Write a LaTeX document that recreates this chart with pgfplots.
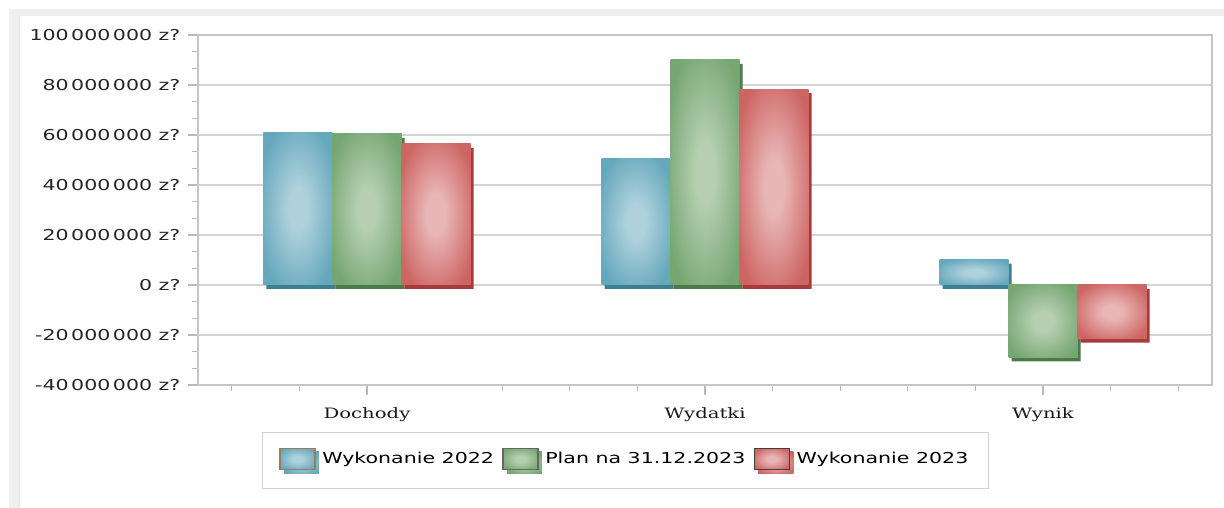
\documentclass[border=0pt]{standalone}
\usepackage{fontspec}
\setmainfont[FakeStretch=1.37]{DejaVu Sans}
\newfontfamily\catfont[FakeStretch=1.37]{DejaVu Serif}
\usepackage{pgfplots}
\usepackage{pgfplotstable}
\pgfplotsset{compat=1.18}
\definecolor{bluebase}{HTML}{65A7BC}
\definecolor{bluelight}{HTML}{AED1DC}
\definecolor{blueshadow}{HTML}{3F7E8E}
\definecolor{greenbase}{HTML}{77A673}
\definecolor{greenlight}{HTML}{B5CFB0}
\definecolor{greenshadow}{HTML}{4C7A4A}
\definecolor{redbase}{HTML}{CD6563}
\definecolor{redlight}{HTML}{E8B6B6}
\definecolor{redshadow}{HTML}{A53B3C}
\definecolor{framegray}{HTML}{EFEFEF}
\definecolor{gridgray}{HTML}{D4D4D4}
\pgfdeclareradialshading{blueglass}{\pgfpoint{0bp}{0bp}}{color(0bp)=(bluelight); color(7bp)=(bluelight); color(30bp)=(bluebase); color(50bp)=(bluebase)}
\pgfdeclareradialshading{greenglass}{\pgfpoint{0bp}{0bp}}{color(0bp)=(greenlight); color(7bp)=(greenlight); color(30bp)=(greenbase); color(50bp)=(greenbase)}
\pgfdeclareradialshading{redglass}{\pgfpoint{0bp}{0bp}}{color(0bp)=(redlight); color(7bp)=(redlight); color(30bp)=(redbase); color(50bp)=(redbase)}
\pgfplotstableread{
x w22 plan w23
0 61100000 60400000 56400000
1 50600000 90000000 78300000
2 10100000 -29000000 -21500000
}\budget
\pgfplotsset{
  bluebar/.style={draw=none, shading=blueglass, bar shift=-41.4pt},
  greenbar/.style={draw=none, shading=greenglass, bar shift=0pt},
  redbar/.style={draw=none, shading=redglass, bar shift=41.4pt},
}
\begin{document}
\begin{tikzpicture}[x=1pt,y=1pt]
\path[use as bounding box] (0,0) rectangle (734.4,304.8);
\fill[white] (0,0) rectangle (734.4,304.8);
\fill[framegray] (5.4,295.2) rectangle (734.4,299.4);
\fill[framegray] (5.4,0) rectangle (11.4,299.4);
\draw[red!8!gray!20, line width=0.6pt] (11.4,0) -- (11.4,295.2);
\begin{axis}[
  at={(118.8pt,73.8pt)}, anchor=south west,
  scale only axis, width=608.4pt, height=210pt,
  ybar, bar width=41.4pt,
  xmin=-0.5, xmax=2.5,
  ymin=-40000000, ymax=100000000,
  xtick={0,1,2}, xticklabels={Dochody,Wydatki,Wynik},
  minor xtick={-0.4,-0.2,0.4,0.6,0.8,1.2,1.4,1.6,1.8,2.2,2.4},
  ytick={-40000000,-20000000,0,20000000,40000000,60000000,80000000,100000000},
  yticklabels={-40\,000\,000 z?,-20\,000\,000 z?,0 z?,20\,000\,000 z?,40\,000\,000 z?,60\,000\,000 z?,80\,000\,000 z?,100\,000\,000 z?},
  minor y tick num=2,
  xtick pos=bottom, ytick pos=left,
  scaled y ticks=false,
  ymajorgrids,
  major grid style={gridgray, line width=0.9pt},
  axis line style={draw=gray!45, line width=0.9pt},
  tick style={gray!55, line width=0.7pt},
  tick align=outside,
  major tick length=6pt, minor tick length=3.5pt,
  yticklabel style={font=\fontsize{9}{10}\selectfont, text=black!85, xshift=-1pt},
  xticklabel style={font=\catfont\fontsize{8.6}{10}\selectfont, text=black!90, yshift=-4pt},
  legend columns=3,
  legend style={at={(0.4216,-0.1343)}, anchor=north, draw=gray!35, line width=0.9pt, fill=white,
    font=\fontsize{9}{10}\selectfont, inner xsep=10pt, inner ysep=9pt,
    /tikz/every even column/.append style={column sep=3pt}},
  legend cell align=left,
]
% shadows
\addplot[draw=none, fill=blueshadow, bar shift=-41.4pt, xshift=1.8pt, yshift=-2.4pt, forget plot] table[x=x,y=w22] {\budget};
\addplot[draw=none, fill=greenshadow, bar shift=0pt, xshift=1.8pt, yshift=-2.4pt, forget plot] table[x=x,y=plan] {\budget};
\addplot[draw=none, fill=redshadow, bar shift=41.4pt, xshift=1.8pt, yshift=-2.4pt, forget plot] table[x=x,y=w23] {\budget};
% bars, one plot per bar so each gets its own shading
\addplot[bluebar,
  legend image code/.code={
    \fill[blueshadow] (2.4pt,-8.8pt) rectangle (23.4pt,4.4pt);
    \draw[draw=brown!70!black!80, line width=0.8pt, shading=blueglass] (0pt,-6.4pt) rectangle (21pt,6.4pt);
  }] coordinates {(0,61100000)};
\addlegendentry{Wykonanie 2022}
\addplot[greenbar,
  legend image code/.code={
    \fill[greenshadow] (2.4pt,-8.8pt) rectangle (23.4pt,4.4pt);
    \draw[draw=gray!80!black, line width=0.8pt, shading=greenglass] (0pt,-6.4pt) rectangle (21pt,6.4pt);
  }] coordinates {(0,60400000)};
\addlegendentry{Plan na 31.12.2023}
\addplot[redbar,
  legend image code/.code={
    \fill[redshadow] (2.4pt,-8.8pt) rectangle (23.4pt,4.4pt);
    \draw[draw=black!75, line width=0.8pt, shading=redglass] (0pt,-6.4pt) rectangle (21pt,6.4pt);
  }] coordinates {(0,56400000)};
\addlegendentry{Wykonanie 2023}
\addplot[bluebar, forget plot] coordinates {(1,50600000)};
\addplot[greenbar, forget plot] coordinates {(1,90000000)};
\addplot[redbar, forget plot] coordinates {(1,78300000)};
\addplot[bluebar, forget plot] coordinates {(2,10100000)};
\addplot[greenbar, forget plot] coordinates {(2,-29000000)};
\addplot[redbar, forget plot] coordinates {(2,-21500000)};
\end{axis}
\end{tikzpicture}
\end{document}
